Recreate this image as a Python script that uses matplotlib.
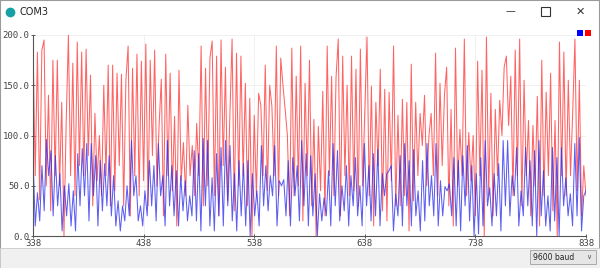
import numpy as np
import matplotlib
matplotlib.use('Agg')
import matplotlib.pyplot as plt
from matplotlib.patches import Rectangle
from matplotlib.lines import Line2D

# serial plotter values (sample 338 .. 838)
red = [193, 60, 183, 36, 185, 195, 50, 140, 25, 175, 60, 175, 50, 133, 0, 113, 200, 60,
       172, 40, 193, 70, 183, 60, 186, 80, 160, 30, 122, 55, 100, 40, 150, 60, 170, 30,
       170, 45, 162, 70, 161, 30, 155, 189, 20, 167, 60, 181, 40, 174, 55, 191, 30, 175,
       80, 185, 50, 110, 156, 20, 181, 60, 162, 45, 119, 10, 165, 55, 93, 40, 130, 60,
       90, 40, 112, 60, 189, 30, 167, 50, 177, 194, 40, 179, 20, 195, 70, 168, 35, 120,
       196, 25, 182, 50, 179, 60, 152, 30, 137, 0, 120, 40, 142, 130, 60, 170, 45, 150,
       129, 60, 189, 40, 177, 150, 126, 100, 20, 187, 40, 159, 50, 189, 15, 152, 60, 175,
       30, 116, 0, 109, 45, 144, 20, 189, 60, 159, 40, 158, 196, 20, 179, 60, 150, 40,
       179, 45, 166, 30, 186, 50, 124, 198, 40, 149, 10, 133, 70, 166, 25, 146, 15, 143,
       55, 189, 30, 120, 30, 136, 40, 133, 5, 171, 35, 133, 60, 122, 90, 140, 50, 100,
       122, 60, 182, 40, 152, 70, 140, 168, 30, 126, 10, 187, 50, 106, 60, 196, 40, 103,
       55, 100, 20, 174, 60, 165, 0, 198, 40, 142, 20, 126, 60, 135, 100, 168, 179, 110,
       159, 40, 185, 60, 196, 30, 155, 60, 115, 20, 110, 50, 139, 10, 175, 40, 143, 60,
       162, 25, 115, 0, 193, 60, 183, 40, 155, 60, 124, 196, 45, 155, 20, 70, 40]

blue = [80, 10, 43, 15, 70, 25, 96, 60, 85, 20, 80, 30, 62, 5, 50, 20, 52, 10,
        45, 5, 82, 30, 87, 40, 92, 15, 92, 40, 80, 10, 75, 25, 72, 30, 80, 20,
        60, 10, 35, 5, 30, 15, 50, 20, 95, 40, 60, 15, 30, 10, 45, 20, 75, 30,
        70, 15, 92, 40, 60, 10, 95, 30, 70, 20, 65, 10, 60, 25, 55, 15, 40, 20,
        85, 15, 82, 5, 97, 30, 95, 10, 58, 5, 82, 20, 88, 10, 95, 30, 90, 15,
        62, 5, 75, 20, 72, 10, 75, 0, 62, 20, 45, 10, 90, 30, 70, 25, 60, 40,
        90, 10, 55, 50, 56, 20, 75, 10, 78, 40, 70, 15, 95, 30, 82, 10, 80, 20,
        62, 0, 42, 15, 38, 20, 65, 10, 92, 30, 85, 15, 50, 25, 70, 10, 60, 30,
        78, 20, 50, 10, 92, 30, 70, 15, 82, 20, 86, 10, 62, 40, 62, 65, 70, 5,
        42, 20, 80, 10, 92, 30, 75, 10, 86, 20, 45, 5, 75, 15, 92, 30, 60, 20,
        92, 10, 55, 20, 49, 45, 52, 20, 78, 10, 75, 5, 80, 30, 90, 15, 70, 0,
        62, 2, 78, 10, 95, 30, 48, 10, 62, 20, 72, 5, 95, 30, 95, 20, 60, 40,
        88, 10, 45, 20, 88, 30, 75, 10, 85, 0, 95, 20, 65, 10, 40, 5, 88, 15,
        78, 0, 88, 30, 58, 20, 42, 10, 92, 20, 98, 5, 40, 45]

x_ticks = [338, 438, 538, 638, 738, 838]
y_ticks = [0, 50, 100, 150, 200]

fig = plt.figure(figsize=(6.0, 2.68), dpi=100)
fig.patch.set_facecolor('white')

# window chrome
fig.patches.append(Rectangle((0, 0), 1, 1, transform=fig.transFigure, fill=False,
                             edgecolor='#9a9a9a', lw=1.5))
fig.patches.append(Rectangle((0, 0), 1, 20 / 268, transform=fig.transFigure,
                             facecolor='#f0f0f0', edgecolor='#c8c8c8', lw=0.6))
fig.add_artist(Line2D([10 / 600], [1 - 12 / 268], transform=fig.transFigure,
                      marker='o', markersize=6, color='#17a1a5', linestyle='none'))
fig.text(19 / 600, 1 - 12 / 268, 'COM3', fontsize=7, va='center', color='#222222')
fig.text(510 / 600, 1 - 11 / 268, '\u2014', fontsize=7, va='center', ha='center', color='#333333')
fig.patches.append(Rectangle((541 / 600, 1 - 16 / 268), 9 / 600, 9 / 268,
                             transform=fig.transFigure, fill=False,
                             edgecolor='#333333', lw=0.8))
fig.text(580 / 600, 1 - 12 / 268, '\u2715', fontsize=8, va='center', ha='center', color='#333333')

# baud dropdown
fig.patches.append(Rectangle((530 / 600, 4 / 268), 66 / 600, 14 / 268,
                             transform=fig.transFigure, facecolor='#e6e6e6',
                             edgecolor='#a0a0a0', lw=0.6))
fig.text(533 / 600, 11 / 268, '9600 baud', fontsize=5.5, va='center', color='#222222')
fig.text(589 / 600, 11 / 268, '\u2228', fontsize=5, va='center', ha='center', color='#555555')

# legend squares
fig.patches.append(Rectangle((577 / 600, 1 - 36 / 268), 6 / 600, 6 / 268,
                             transform=fig.transFigure, facecolor='#0000ff', edgecolor='none'))
fig.patches.append(Rectangle((585 / 600, 1 - 36 / 268), 6 / 600, 6 / 268,
                             transform=fig.transFigure, facecolor='#ff0000', edgecolor='none'))

ax = fig.add_axes([33 / 600, 32 / 268, 553 / 600, 201 / 268])
xr = np.linspace(338, 838, len(red))
xb = np.linspace(338, 838, len(blue))
ax.plot(xr, red, color='#ff3030', lw=0.75, alpha=0.75)
ax.plot(xb, blue, color='#2828ee', lw=0.75, alpha=0.75)

ax.set_xlim(338, 838)
ax.set_ylim(0, 200)
ax.set_xticks(x_ticks)
ax.set_yticks(y_ticks)
ax.set_xticklabels([str(t) for t in x_ticks], family='DejaVu Sans Mono')
ax.set_yticklabels(['%.1f' % t for t in y_ticks], family='DejaVu Sans Mono')
ax.grid(True, color='#eeeeee', lw=0.6)
ax.set_axisbelow(True)
ax.tick_params(labelsize=6.5, colors='#444444', length=3, width=0.6,
               direction='inout', pad=1)
for s in ['top', 'right']:
    ax.spines[s].set_visible(False)
for s in ['left', 'bottom']:
    ax.spines[s].set_color('#555555')
    ax.spines[s].set_linewidth(0.8)

fig.savefig('out.png', dpi=100)
